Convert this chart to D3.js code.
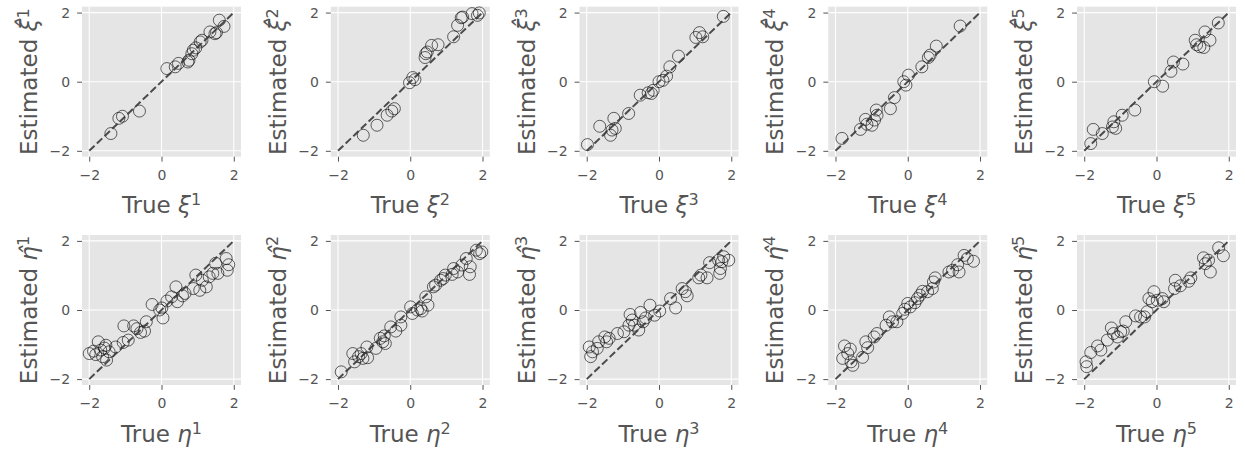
<!DOCTYPE html>
<html>
<head>
<meta charset="utf-8">
<script src="https://cdn.jsdelivr.net/npm/d3@7"></script>
<style>
    body { margin: 0; background: #fff; }
    text { font-family: "DejaVu Sans", sans-serif; }
</style>
</head>
<body>
<script>
// [true, estimated] pairs
var xi1 = [[-1.40,-1.50],[-1.18,-1.06],[-1.08,-1.00],[-0.61,-0.85],[0.15,0.38],[0.38,0.43],[0.47,0.53],
    [0.73,0.57],[0.76,0.62],[0.84,0.81],[0.88,0.91],[0.95,0.98],[1.07,1.15],[1.12,1.20],[1.34,1.44],
    [1.48,1.39],[1.52,1.42],[1.60,1.78],[1.73,1.60]];
var xi2 = [[-1.30,-1.55],[-0.92,-1.26],[-0.64,-0.97],[-0.51,-0.85],[-0.44,-0.78],[-0.02,-0.03],[0.07,0.12],
    [0.13,0.06],[0.41,0.70],[0.43,0.81],[0.47,0.86],[0.59,1.05],[0.77,1.07],[1.20,1.30],[1.31,1.63],
    [1.41,1.85],[1.45,1.87],[1.71,1.97],[1.86,1.92],[1.91,1.99]];
var xi3 = [[-1.98,-1.82],[-1.64,-1.29],[-1.34,-1.55],[-1.30,-1.40],[-1.21,-1.35],[-1.25,-1.06],[-0.84,-0.92],
    [-0.52,-0.39],[-0.30,-0.32],[-0.21,-0.34],[-0.16,-0.25],[0.00,0.00],[0.11,0.04],[0.21,0.16],
    [0.30,0.43],[0.54,0.74],[1.02,1.28],[1.12,1.42],[1.21,1.30],[1.78,1.89]];
var xi4 = [[-1.82,-1.64],[-1.31,-1.38],[-1.17,-1.09],[-1.13,-1.23],[-0.99,-1.26],[-0.92,-1.11],[-0.87,-0.82],
    [-0.85,-0.97],[-0.48,-0.78],[-0.37,-0.46],[-0.11,0.00],[-0.05,-0.10],[0.02,0.19],[0.39,0.43],
    [0.57,0.70],[0.62,0.77],[0.79,1.03],[1.45,1.61]];
var xi5 = [[-1.82,-1.79],[-1.75,-1.38],[-1.50,-1.50],[-1.22,-1.31],[-1.18,-1.16],[-1.13,-1.35],[-0.95,-0.97],
    [-0.60,-0.82],[-0.06,0.00],[0.17,-0.13],[0.40,0.30],[0.47,0.57],[0.73,0.51],[1.07,1.20],
    [1.11,1.07],[1.20,1.01],[1.31,0.99],[1.34,1.44],[1.48,1.20],[1.71,1.70]];

var eta1 = [[-2.00,-1.26],[-1.88,-1.19],[-1.82,-1.29],[-1.75,-0.92],[-1.68,-1.16],[-1.63,-1.35],[-1.54,-1.02],
    [-1.52,-1.45],[-1.45,-1.21],[-1.58,-1.10],[-1.27,-1.07],[-1.06,-0.94],[-1.04,-0.46],[-0.92,-0.87],
    [-0.77,-0.46],[-0.68,-0.54],[-0.58,-0.65],[-0.47,-0.61],[-0.42,-0.34],[-0.26,0.16],[-0.05,0.00],
    [0.01,0.06],[0.04,-0.23],[0.15,0.26],[0.28,0.38],[0.40,0.67],[0.44,0.24],[0.58,0.41],[0.65,0.48],
    [0.88,0.62],[0.95,1.01],[1.06,0.57],[1.13,0.86],[1.24,0.67],[1.32,0.96],[1.42,1.06],[1.50,1.35],
    [1.56,1.06],[1.79,1.49],[1.82,1.15],[1.86,1.31]];
var eta2 = [[-1.91,-1.79],[-1.59,-1.26],[-1.54,-1.50],[-1.43,-1.35],[-1.36,-1.26],[-1.31,-1.40],[-1.18,-1.38],
    [-1.20,-1.07],[-0.95,-1.11],[-0.83,-0.82],[-0.76,-0.92],[-0.72,-0.75],[-0.69,-0.97],[-0.54,-0.49],
    [-0.40,-0.61],[-0.26,-0.44],[-0.26,-0.20],[0.01,0.09],[0.06,-0.10],[0.20,0.00],[0.29,0.04],
    [0.33,-0.03],[0.43,0.38],[0.49,0.14],[0.64,0.67],[0.70,0.72],[0.84,0.86],[0.91,0.91],[0.97,1.01],
    [1.16,1.03],[1.20,1.20],[1.31,1.10],[1.43,1.30],[1.55,1.49],[1.64,1.03],[1.66,1.25],[1.83,1.73],
    [1.92,1.63],[1.98,1.68]];
var eta3 = [[-1.93,-1.07],[-1.89,-1.35],[-1.84,-1.21],[-1.71,-1.11],[-1.67,-0.92],[-1.50,-0.78],[-1.45,-0.92],
    [-1.38,-0.82],[-1.15,-0.68],[-0.97,-0.63],[-0.83,-0.44],[-0.80,-0.13],[-0.74,-0.29],[-0.68,-0.44],
    [-0.56,-0.58],[-0.51,-0.07],[-0.44,-0.34],[-0.37,-0.23],[-0.25,0.14],[-0.12,-0.15],[0.02,-0.03],
    [0.32,0.33],[0.46,0.06],[0.64,0.62],[0.73,0.53],[0.78,0.41],[1.10,0.93],[1.16,1.01],[1.33,0.93],
    [1.40,1.37],[1.65,1.44],[1.70,1.20],[1.68,1.06],[1.74,1.40],[1.79,1.54],[1.93,1.44]];
var eta4 = [[-1.75,-1.04],[-1.80,-1.40],[-1.66,-1.26],[-1.59,-1.13],[-1.57,-1.50],[-1.52,-1.60],[-1.25,-1.37],
    [-1.16,-0.92],[-1.11,-1.09],[-0.93,-0.78],[-0.85,-0.68],[-0.60,-0.44],[-0.51,-0.20],[-0.42,-0.34],
    [-0.30,-0.34],[-0.14,-0.10],[-0.08,0.02],[0.00,0.19],[0.07,0.09],[0.20,0.21],[0.27,0.33],
    [0.34,0.43],[0.41,0.54],[0.55,0.53],[0.68,0.62],[0.71,0.81],[0.76,0.93],[1.14,1.10],[1.24,1.15],
    [1.42,1.10],[1.38,1.31],[1.56,1.58],[1.65,1.49],[1.82,1.41]];
var eta5 = [[-1.95,-1.50],[-1.93,-1.64],[-1.82,-1.23],[-1.63,-1.04],[-1.54,-1.16],[-1.36,-0.87],[-1.25,-0.52],
    [-1.19,-0.68],[-1.08,-0.78],[-0.99,-0.63],[-0.92,-0.61],[-0.85,-0.34],[-0.58,-0.17],[-0.44,-0.20],
    [-0.33,-0.20],[-0.26,-0.05],[-0.21,0.33],[-0.12,0.24],[-0.07,0.53],[0.02,0.28],[0.16,0.33],
    [0.20,0.24],[0.52,0.86],[0.50,0.62],[0.66,0.70],[0.89,0.83],[0.95,0.93],[1.30,1.51],[1.35,1.34],
    [1.44,1.44],[1.49,1.10],[1.72,1.80],[1.85,1.57]];

var rows = [[xi1, xi2, xi3, xi4, xi5], [eta1, eta2, eta3, eta4, eta5]];
var symbols = ["ξ", "η"];
var indices = ["1", "2", "3", "4", "5"];
var tickValues = [-2, 0, 2];
var diagonal = [[-2, -2], [2, 2]];

function gridChart() {

    var width = 1245,
        height = 451,
        left = 82,
        colStep = 248.75,
        rowTops = [6.7, 235],
        pw = 159,
        ph = 150;

    var x = d3.scaleLinear().domain([-2.2, 2.2]).range([0, pw]);
    var y = d3.scaleLinear().domain([-2.17, 2.17]).range([ph, 0]);
    var fmt = d3.format("d");

    var line = d3.line()
        .x(function (d) { return x(d[0]); })
        .y(function (d) { return y(d[1]); });

    var svg = d3.select("body")
        .append("svg")
        .attr("width", width)
        .attr("height", height);

    rows.forEach(function (row, r) {
        row.forEach(function (data, c) {
            var g = svg.append("g")
                .attr("transform", "translate(" + [left + c * colStep, rowTops[r]] + ")");

            g.append("rect")
                .attr("width", pw)
                .attr("height", ph)
                .attr("fill", "#e5e5e5");

            // grid
            g.selectAll(".gx").data(tickValues).enter().append("line")
                .attr("x1", x).attr("x2", x)
                .attr("y1", 0).attr("y2", ph)
                .attr("stroke", "#fff").attr("stroke-width", 1.1);
            g.selectAll(".gy").data(tickValues).enter().append("line")
                .attr("y1", y).attr("y2", y)
                .attr("x1", 0).attr("x2", pw)
                .attr("stroke", "#fff").attr("stroke-width", 1.1);

            var xa = g.append("g")
                .attr("transform", "translate(0," + ph + ")")
                .call(d3.axisBottom(x).tickValues(tickValues).tickFormat(fmt).tickSize(4.9).tickPadding(8));
            var ya = g.append("g")
                .call(d3.axisLeft(y).tickValues(tickValues).tickFormat(fmt).tickSize(4.9).tickPadding(7));
            [xa, ya].forEach(function (a) {
                a.select(".domain").remove();
                a.selectAll("line").attr("stroke", "#555");
                a.selectAll("text")
                    .attr("fill", "#555")
                    .style("font-size", "14px")
                    .style("font-family", "DejaVu Sans");
            });

            g.selectAll("circle")
                .data(data)
                .enter()
                .append("circle")
                .attr("cx", function (d) { return x(d[0]); })
                .attr("cy", function (d) { return y(d[1]); })
                .attr("r", 6)
                .attr("fill", "none")
                .attr("stroke", "#000")
                .attr("stroke-opacity", 0.6)
                .attr("stroke-width", 1);

            g.append("path")
                .datum(diagonal)
                .attr("d", line)
                .attr("fill", "none")
                .attr("stroke", "#3a3a3a")
                .attr("stroke-opacity", 0.9)
                .attr("stroke-width", 2)
                .attr("stroke-dasharray", "7.4,3.2");

            // x label
            var xl = g.append("text")
                .attr("x", pw / 2)
                .attr("y", 206.5)
                .attr("text-anchor", "middle")
                .attr("fill", "#555")
                .style("font-size", "23px");
            xl.append("tspan").text("True ");
            xl.append("tspan").style("font-style", "italic").text(symbols[r]);
            xl.append("tspan").attr("dy", -8).style("font-size", "16px").text(indices[c]);

            // y label
            var yl = g.append("text")
                .attr("transform", "translate(-45," + ph / 2 + ")rotate(-90)")
                .attr("text-anchor", "middle")
                .attr("fill", "#555")
                .style("font-size", "23px");
            yl.append("tspan").text("Estimated ");
            yl.append("tspan").style("font-style", "italic").text(symbols[r] + "\u0302");
            yl.append("tspan").attr("dy", -8).style("font-size", "16px").text(indices[c]);
        });
    });
}

gridChart();
</script>
</body>
</html>
